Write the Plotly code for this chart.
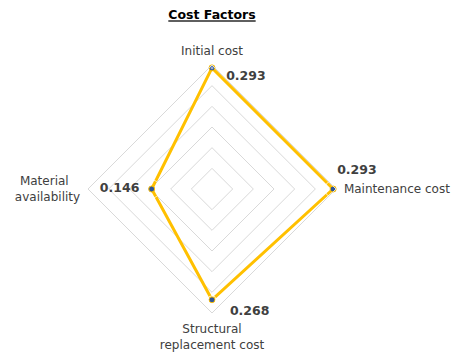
import plotly.graph_objects as go

NB = "\u00a0"
categories = ["Initial cost", "Maintenance cost", "Structural<br>replacement cost",
              "Material" + NB * 3 + "<br>availability"]
values = [0.293, 0.293, 0.268, 0.146]
value_labels = ["0.293", "0.293", "0.268", "0.146"]
label_positions = ["bottom right", "top center", "bottom right", "middle left"]
label_pad = [NB * 3, NB * 12, NB * 3, ""]
label_offset_size = [2, 16.8, 8, 18]

W, H = 451, 353
cx, cy, R = 212, 189, 124

fig = go.Figure()
fig.add_trace(go.Scatterpolar(
    r=values + [values[0]],
    theta=categories + [categories[0]],
    mode="lines",
    line=dict(color="#FFC000", width=3),
    hoverinfo="skip",
    showlegend=False,
))
fig.add_trace(go.Scatterpolar(
    r=values,
    theta=categories,
    mode="markers",
    marker=dict(color="#2F5597", size=6, line=dict(color="#FFC000", width=1)),
    hoverinfo="skip",
    showlegend=False,
))
# data labels (transparent markers of varying size to offset the text)
fig.add_trace(go.Scatterpolar(
    r=values,
    theta=categories,
    mode="markers+text",
    marker=dict(color="rgba(0,0,0,0)", size=label_offset_size),
    text=[p + "<b>" + t + "</b>" for p, t in zip(label_pad, value_labels)],
    textposition=label_positions,
    textfont=dict(family="DejaVu Sans", size=12.5, color="#404040"),
    hoverinfo="skip",
    showlegend=False,
))

fig.update_layout(
    width=W, height=H,
    margin=dict(l=0, r=0, t=0, b=0),
    paper_bgcolor="white",
    plot_bgcolor="white",
    font=dict(family="DejaVu Sans", size=12, color="#404040"),
    title=dict(
        text="<b><u>Cost Factors</u></b>",
        x=212 / W, xanchor="center",
        y=1 - 15 / H, yanchor="middle",
        font=dict(family="DejaVu Sans", size=12.5, color="#000000"),
    ),
    polar=dict(
        domain=dict(x=[(cx - R) / W, (cx + R) / W], y=[(H - cy - R) / H, (H - cy + R) / H]),
        bgcolor="white",
        gridshape="linear",
        radialaxis=dict(
            range=[0, 0.3], dtick=0.05, tick0=0,
            showticklabels=False, ticks="", showline=False,
            gridcolor="#D9D9D9", gridwidth=1,
        ),
        angularaxis=dict(
            direction="clockwise", rotation=90,
            showgrid=False, showline=True, linecolor="#D9D9D9", linewidth=1,
            ticks="outside", ticklen=5, tickcolor="rgba(0,0,0,0)",
            tickfont=dict(family="DejaVu Sans", size=12, color="#404040"),
        ),
    ),
)

fig.write_html("out.html")
